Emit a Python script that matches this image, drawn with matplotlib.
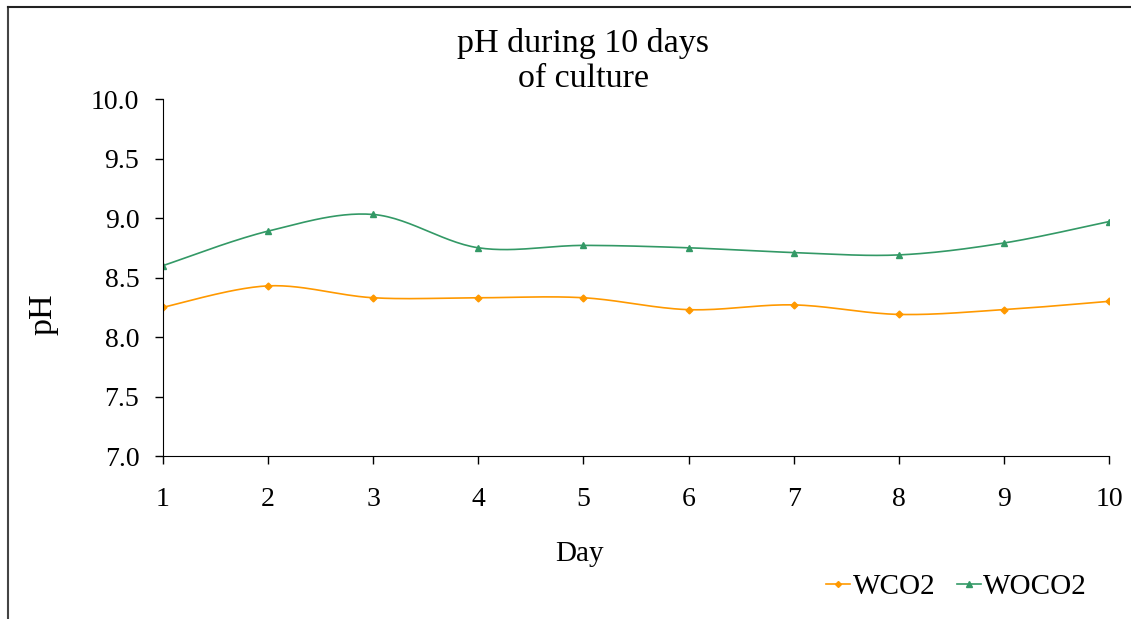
import numpy as np
import matplotlib.pyplot as plt
from matplotlib.lines import Line2D

plt.rcParams['font.family'] = ['Liberation Serif', 'DejaVu Serif']

days = [1, 2, 3, 4, 5, 6, 7, 8, 9, 10]
wco2 = [8.25, 8.43, 8.33, 8.33, 8.33, 8.23, 8.27, 8.19, 8.23, 8.30]
woco2 = [8.60, 8.89, 9.03, 8.75, 8.77, 8.75, 8.71, 8.69, 8.79, 8.97]
yticks = [7.0, 7.5, 8.0, 8.5, 9.0, 9.5, 10.0]


def smooth(x, y, n=30):
    # Excel-style smoothed line: cubic Bezier with Catmull-Rom control points
    x = np.asarray(x, float)
    y = np.asarray(y, float)
    px, py = [], []
    for i in range(len(x) - 1):
        x0, y0 = (x[i - 1], y[i - 1]) if i > 0 else (x[i], y[i])
        x3, y3 = (x[i + 2], y[i + 2]) if i + 2 < len(x) else (x[i + 1], y[i + 1])
        c1x = x[i] + (x[i + 1] - x0) / 6
        c1y = y[i] + (y[i + 1] - y0) / 6
        c2x = x[i + 1] - (x3 - x[i]) / 6
        c2y = y[i + 1] - (y3 - y[i]) / 6
        t = np.linspace(0, 1, n)
        bx = (1 - t) ** 3 * x[i] + 3 * (1 - t) ** 2 * t * c1x + 3 * (1 - t) * t ** 2 * c2x + t ** 3 * x[i + 1]
        by = (1 - t) ** 3 * y[i] + 3 * (1 - t) ** 2 * t * c1y + 3 * (1 - t) * t ** 2 * c2y + t ** 3 * y[i + 1]
        px.extend(bx)
        py.extend(by)
    return px, py


fig = plt.figure(figsize=(11.31, 6.19), dpi=100)
ax = fig.add_axes([0.1441, 0.2633, 0.8364, 0.5767])

orange = '#FF9900'
green = '#339966'

sx, sy = smooth(days, wco2)
ax.plot(sx, sy, color=orange, lw=1.2)
ax.plot(days, wco2, ls='none', marker='D', ms=3.5, color=orange)

sx, sy = smooth(days, woco2)
ax.plot(sx, sy, color=green, lw=1.2)
ax.plot(days, woco2, ls='none', marker='^', ms=4.5, color=green)

ax.set_xlim(1, 10)
ax.set_ylim(7.0, 10.0)
ax.set_xticks(days)
ax.set_yticks(yticks)
ax.set_yticklabels([f'{v:.1f}' for v in yticks])
ax.tick_params(labelsize=20, direction='out', length=6, width=1)
ax.tick_params(axis='x', pad=16)
ax.tick_params(axis='y', pad=11)
ax.spines['top'].set_visible(False)
ax.spines['right'].set_visible(False)

fig.text(579 / 1131, 1 - 554 / 619, 'Day', ha='center', va='center', fontsize=21)
fig.text(43 / 1131, 1 - 314 / 619, 'pH', ha='center', va='center', rotation=90, fontsize=24.5)
fig.text(0.5155, 0.955, 'pH during 10 days\nof culture', ha='center', va='top',
         fontsize=24.5, linespacing=1.2)

handles = [Line2D([], [], color=orange, marker='D', ms=3, lw=1.2),
           Line2D([], [], color=green, marker='^', ms=4, lw=1.2)]
fig.legend(handles, ['WCO2', 'WOCO2'], loc='center', bbox_to_anchor=(0.846, 0.052),
           ncol=2, frameon=False, fontsize=21, handlelength=0.8, handletextpad=0.1,
           columnspacing=0.75, borderpad=0, borderaxespad=0)

# outer chart frame (top and left edges visible)
fig.add_artist(Line2D([0.007, 0.007], [0, 0.989], transform=fig.transFigure, color='#444444', lw=1.5))
fig.add_artist(Line2D([0.007, 1.0], [0.989, 0.989], transform=fig.transFigure, color='#222222', lw=1.5))

fig.savefig('out.png', dpi=100)
